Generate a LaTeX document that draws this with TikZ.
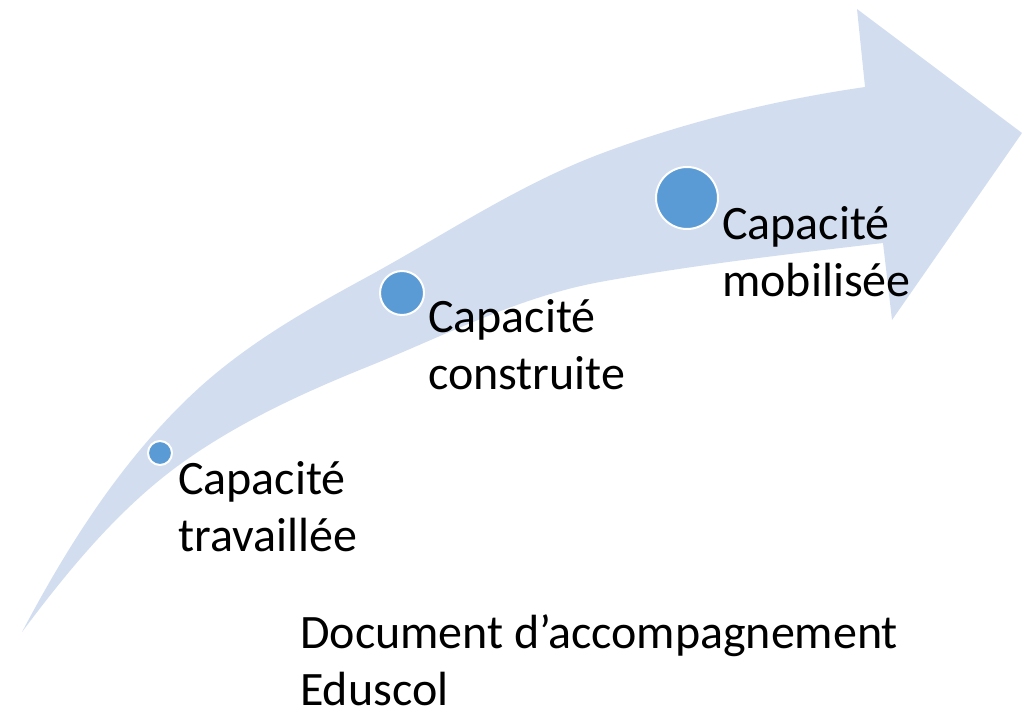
\documentclass[tikz,border=0pt]{standalone}
\usepackage{fontspec}
\setmainfont{Carlito}
\usetikzlibrary{positioning}
\definecolor{arrowblue}{HTML}{D2DEEF}
\definecolor{dotblue}{HTML}{5B9BD5}

\begin{document}
\begin{tikzpicture}[x=1pt, y=-1pt, every node/.style={inner sep=0pt, align=left, font=\fontsize{48}{57}\selectfont},
	dot/.style={circle, fill=dotblue, draw=white, line width=2pt}]
	\useasboundingbox (0,0) rectangle (1035,715);
	% curved arrow
	\fill[arrowblue] (22,632) .. controls (69,543) and (125,455) .. (200,387)
		.. controls (250,342) and (308,309) .. (367,277)
		.. controls (444,235) and (518,185) .. (600,154)
		.. controls (685,122) and (775,100) .. (865,87)
		-- (857,9) -- (1022,133) -- (892,320) -- (883,243)
		.. controls (789,254) and (693,265) .. (600,282)
		.. controls (518,297) and (444,336) .. (367,367)
		.. controls (300,394) and (233,425) .. (175,468)
		.. controls (115,513) and (67,572) .. (22,632) -- cycle;
	\node[dot, minimum size=24pt] (travaillee) at (160,453) {};
	\node[dot, minimum size=44pt] (construite) at (402,293) {};
	\node[dot, minimum size=62pt] (mobilisee) at (687,198) {};
	\node[anchor=base west] (txttravaillee) at (178,551) {Capacité\\travaillée};
	\node[anchor=base west] (txtconstruite) at (428,389) {Capacité\\construite};
	\node[anchor=base west] (txtmobilisee) at (722,296) {Capacité\\mobilisée};
	\node[anchor=base west] (eduscol) at (300,705) {Document d’accompagnement\\Eduscol};
\end{tikzpicture}
\end{document}
